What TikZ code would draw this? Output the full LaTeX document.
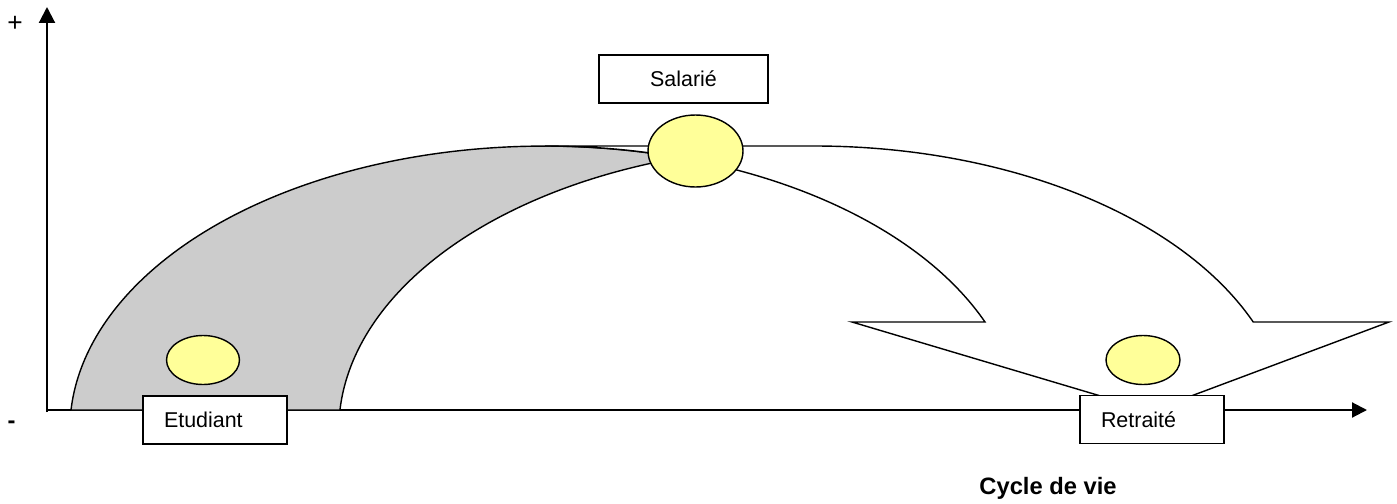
\documentclass[tikz,border=0pt]{standalone}
\usepackage{fontspec}
\setmainfont{Liberation Sans}
\usetikzlibrary{arrows.meta,shapes.geometric}
\definecolor{paleyellow}{RGB}{255,255,153}
\definecolor{backgray}{RGB}{204,204,204}
\begin{document}
\begin{tikzpicture}[x=0.02cm,y=0.02cm,
  axisline/.style={line width=1.2pt},
  band/.style={draw=black,line width=0.8pt,line join=miter},
  spot/.style={ellipse,draw=black,fill=paleyellow,line width=0.8pt,inner sep=0pt},
  labelbox/.style={rectangle,draw=black,fill=white,line width=0.8pt,
    font=\fontsize{12.2}{14}\selectfont,minimum height=0.96cm},
  leftbox/.style={labelbox,text width=2.04cm,inner xsep=0.42cm,align=left},
]
\useasboundingbox (0,0) rectangle (1397,-504);

% axes
\coordinate (O) at (47,-410);
\coordinate (Obottom) at (47,-412);
\coordinate (ytip) at (47,-7);
\coordinate (xtip) at (1367,-410);
\draw[axisline,-{Triangle[length=0.32cm,width=0.32cm]}] (Obottom) -- (ytip);
\draw[axisline,-{Triangle[length=0.3cm,width=0.3cm]}] (O) -- (xtip);

% back (shaded) part of the curved arrow
\filldraw[band,fill=backgray]
  (71,-410) arc[start angle=175.96,end angle=73.55,x radius=9.5cm,y radius=5.68cm]
  arc[start angle=106.45,end angle=175.96,x radius=9.5cm,y radius=5.68cm]
  -- cycle;

% front (white) part of the curved arrow with its head
\filldraw[band,fill=white]
  (545,-146) -- (814,-146)
  arc[start angle=90,end angle=22.35,x radius=9.5cm,y radius=5.68cm]
  -- (1389,-322) -- (1151,-411) -- (852,-322) -- (985,-322)
  arc[start angle=22.35,end angle=90,x radius=9.5cm,y radius=5.68cm]
  -- cycle;

% yellow spots
\node[spot,minimum width=1.9cm,minimum height=1.44cm] (salspot) at (695.5,-151) {};
\node[spot,minimum width=1.46cm,minimum height=0.98cm] (etuspot) at (203,-360) {};
\node[spot,minimum width=1.48cm,minimum height=0.98cm] (retspot) at (1143,-360) {};

% label boxes
\node[labelbox,minimum width=3.38cm] (salarie) at (683.5,-79) {Salarié};
\node[leftbox] (etudiant) at (215,-420) {Etudiant};
\node[leftbox] (retraite) at (1152,-419.5) {Retraité};

% axis texts
\node[font=\fontsize{15}{16}\selectfont,inner sep=0pt] (plus) at (15,-24) {+};
\node[font=\bfseries\fontsize{13.5}{15}\selectfont,inner sep=0pt] (minus) at (11.5,-424.5) {-};
\node[font=\bfseries\fontsize{13.5}{15}\selectfont,anchor=base,inner sep=0pt] (cycle) at (1048,-494) {Cycle de vie};
\end{tikzpicture}
\end{document}
